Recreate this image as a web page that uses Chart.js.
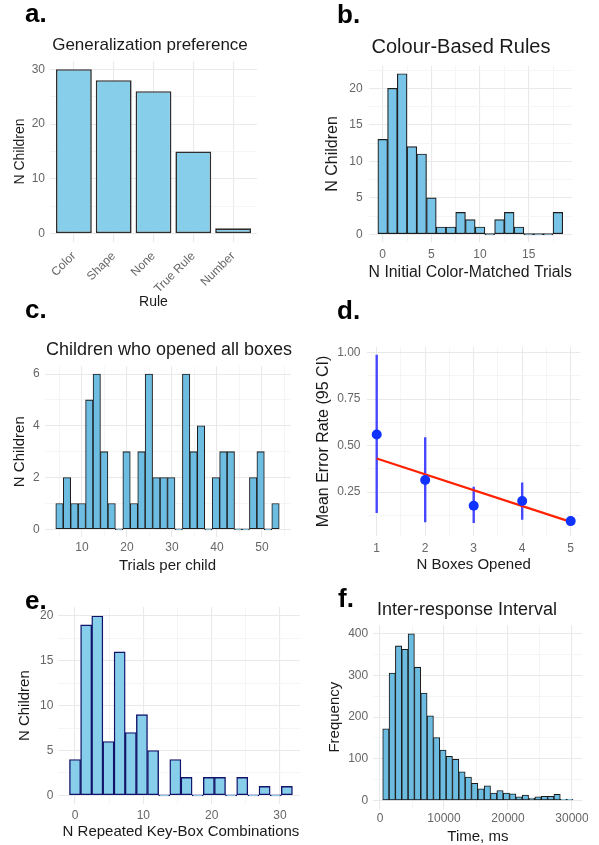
<!DOCTYPE html>
<html>
<head>
<meta charset="utf-8">
<script src="https://cdn.jsdelivr.net/npm/chart.js@4.4.1/dist/chart.umd.min.js"></script>
<style>
  html, body { margin: 0; padding: 0; background: #fff; overflow: hidden; }
  #page { position: relative; width: 599px; height: 845px; font-family: 'Liberation Sans', Arial, sans-serif; }
  .clip { position: absolute; left: 0; top: 0; height: 845px; overflow: hidden; }
  canvas { position: absolute; left: 0; top: 0; }
  .lbl { position: absolute; font-size: 26px; font-weight: bold; line-height: 1; color: #000; white-space: nowrap; }
  .ttl { position: absolute; line-height: 1; color: #1a1a1a; white-space: nowrap; transform: translateX(-50%); }
</style>
</head>
<body>
<div id="page">
  <div class="clip" style="width:599px"><canvas id="chA" width="599" height="845"></canvas></div>
  <div class="clip" style="width:599px"><canvas id="chB" width="599" height="845"></canvas></div>
  <div class="clip" style="width:599px"><canvas id="chC" width="599" height="845"></canvas></div>
  <div class="clip" style="width:599px"><canvas id="chD" width="599" height="845"></canvas></div>
  <div class="clip" style="width:300px"><canvas id="chE" width="599" height="845"></canvas></div>
  <div class="clip" style="width:588px"><canvas id="chF" width="599" height="845"></canvas></div>

  <div class="lbl" style="left:25px;top:0px">a.</div>
  <div class="lbl" style="left:337px;top:1px">b.</div>
  <div class="lbl" style="left:25px;top:296px">c.</div>
  <div class="lbl" style="left:337px;top:297px">d.</div>
  <div class="lbl" style="left:25px;top:587px">e.</div>
  <div class="lbl" style="left:338px;top:585px">f.</div>

  <div class="ttl" style="left:150px;top:35.6px;font-size:17px">Generalization preference</div>
  <div class="ttl" style="left:461px;top:36.4px;font-size:20px">Colour-Based Rules</div>
  <div class="ttl" style="left:169px;top:339.8px;font-size:18px">Children who opened all boxes</div>
  <div class="ttl" style="left:467px;top:599.8px;font-size:18px">Inter-response Interval</div>
</div>

<script>
// ---- data ----
// a. Generalization preference
const ruleCats = ['Color', 'Shape', 'None', 'True Rule', 'Number'];
const rulePos = [1, 2, 3, 4, 5];
const ruleCounts = [30, 28, 26, 15, 1];

// b. Colour-Based Rules (bin centres = N initial color-matched trials)
const colorBins = [0, 1, 2, 3, 4, 5, 6, 7, 8, 9, 10, 11, 12, 13, 14, 15, 16, 17, 18];
const colorCounts = [13, 20, 22, 12, 11, 5, 1, 1, 3, 2, 1, 0, 2, 3, 1, 0, 0, 0, 3];

// c. Children who opened all boxes (trials per child, 30 bins)
const trialBins = [5.00, 6.66, 8.31, 9.97, 11.62, 13.28, 14.93, 16.59, 18.24, 19.90,
                   21.55, 23.21, 24.86, 26.52, 28.17, 29.83, 31.48, 33.14, 34.79, 36.45,
                   38.10, 39.76, 41.41, 43.07, 44.72, 46.38, 48.03, 49.69, 51.34, 53.00];
const trialCounts = [1, 2, 1, 1, 5, 6, 3, 1, 0, 3, 1, 3, 6, 2, 2, 2, 0, 6, 3, 4, 0, 2, 3, 3, 0, 0, 2, 3, 0, 1];

// d. Mean error rate by number of boxes opened
const boxesOpened = [1, 2, 3, 4, 5];
const errorMean = [0.56, 0.315, 0.177, 0.202, 0.094];
const errorLow = [0.14, 0.09, 0.085, 0.103, 0.072];
const errorHigh = [0.986, 0.543, 0.277, 0.30, 0.117];
const fitX = [1, 5];
const fitY = [0.431, 0.09];

// e. Repeated key-box combinations (20 bins)
const repeatBins = [0, 1.63, 3.26, 4.89, 6.53, 8.16, 9.79, 11.42, 13.05, 14.68,
                    16.32, 17.95, 19.58, 21.21, 22.84, 24.47, 26.11, 27.74, 29.37, 31.00];
const repeatCounts = [4, 19, 20, 6, 16, 7, 9, 5, 0, 4, 2, 0, 2, 2, 0, 2, 0, 1, 0, 1];

// f. Inter-response interval (ms, 30 bins)
const iriBins = [917, 1908, 2899, 3890, 4881, 5872, 6863, 7854, 8845, 9836,
                 10827, 11818, 12809, 13800, 14791, 15782, 16773, 17764, 18755, 19746,
                 20737, 21728, 22719, 23710, 24701, 25692, 26683, 27674, 28665, 29656];
const iriCounts = [172, 306, 371, 363, 400, 320, 258, 203, 151, 121, 106, 99, 69, 56, 41,
                   28, 35, 18, 24, 18, 16, 9, 13, 6, 9, 10, 10, 15, 2, 2];

// ---- helpers ----
Chart.defaults.font.family = "'Liberation Sans', Arial, sans-serif";
const GRID_MAJOR = '#e9e9e9', GRID_MINOR = '#f3f3f3';

// gg-style linear axis with major (labelled) and minor (unlabelled) breaks
function axis(o) {
  const major = o.major;
  const all = major.concat(o.minor || []).sort((p, q) => p - q);
  const isMajor = c => c.tick && major.includes(c.tick.value);
  return {
    type: 'linear', min: o.min, max: o.max, offset: false,
    afterBuildTicks: s => { s.ticks = all.map(v => ({ value: v })); },
    afterFit: s => { if (s.isHorizontal()) s.height = o.size; else s.width = o.size; },
    ticks: {
      autoSkip: false, padding: o.pad, color: '#666', font: { size: o.font || 12 },
      minRotation: o.rot || 0, maxRotation: o.rot || 0,
      callback: v => major.includes(v) ? (o.fmt ? o.fmt(v) : String(v)) : ''
    },
    grid: {
      drawTicks: false, offset: false,
      color: c => isMajor(c) ? GRID_MAJOR : GRID_MINOR,
      lineWidth: c => isMajor(c) ? 1.1 : 0.8
    },
    border: { display: false },
    title: { display: true, text: o.title, color: '#1a1a1a', font: { size: o.tsize, lineHeight: 1 }, padding: 0 }
  };
}

// plot box -> axis sizes + layout padding (page coords)
function place(p) {
  const yW = p.L - (p.yTitleX - p.yts / 2);
  const xH = p.xTitleY + p.xts / 2 - p.B;
  return { yW, xH, padding: { left: p.L - yW, top: p.T, right: 599 - p.R, bottom: 845 - p.B - xH } };
}

function baseOptions(g) {
  return {
    responsive: false, animation: false, devicePixelRatio: 1,
    layout: { padding: g.padding },
    plugins: { legend: { display: false }, tooltip: { enabled: false }, title: { display: false } }
  };
}

function histogram(id, geo, bins, counts, st, xo, yo) {
  const g = place(geo);
  const opts = baseOptions(g);
  opts.scales = {
    x: axis(Object.assign({ size: g.xH, tsize: geo.xts }, xo)),
    y: axis(Object.assign({ size: g.yW, tsize: geo.yts }, yo))
  };
  new Chart(document.getElementById(id), {
    type: 'bar',
    data: {
      datasets: [{
        data: bins.map((b, i) => ({ x: b, y: counts[i] })),
        backgroundColor: st.fill, borderColor: st.line, borderWidth: st.lw,
        borderSkipped: false, barPercentage: st.bar || 1, categoryPercentage: 1, minBarLength: 1.2
      }]
    },
    options: opts
  });
}

// ---- a ----
histogram('chA',
  { L: 50, R: 257, T: 61, B: 242, yTitleX: 20, yts: 14, xTitleY: 302, xts: 14 },
  rulePos, ruleCounts,
  { fill: '#87CEEB', line: '#2e2e2e', lw: 1.6, bar: 0.9 },
  { min: 0.4, max: 5.6, major: rulePos, pad: 7, rot: 45, title: 'Rule', fmt: v => ruleCats[v - 1] },
  { min: -1.5, max: 31.5, major: [0, 10, 20, 30], minor: [5, 15, 25], pad: 5, title: 'N Children' });

// ---- b ----
histogram('chB',
  { L: 368.6, R: 572, T: 65.7, B: 242.3, yTitleX: 333, yts: 16, xTitleY: 273, xts: 16 },
  colorBins, colorCounts,
  { fill: '#78C4E8', line: '#1e1e1e', lw: 1.2 },
  { min: -1.45, max: 19.45, major: [0, 5, 10, 15], minor: [2.5, 7.5, 12.5, 17.5], pad: 5.5, title: 'N Initial Color-Matched Trials' },
  { min: -1.1, max: 23.1, major: [0, 5, 10, 15, 20], minor: [2.5, 7.5, 12.5, 17.5, 22.5], pad: 6, title: 'N Children' });

// ---- c ----
histogram('chC',
  { L: 44.6, R: 290.4, T: 366.3, B: 537.1, yTitleX: 20, yts: 15, xTitleY: 565.7, xts: 15 },
  trialBins, trialCounts,
  { fill: '#6DBDE3', line: '#1e1e1e', lw: 1.05 },
  { min: 1.69, max: 56.31, major: [10, 20, 30, 40, 50], minor: [5, 15, 25, 35, 45, 55], pad: 3.7, title: 'Trials per child' },
  { min: -0.3, max: 6.3, major: [0, 2, 4, 6], minor: [1, 3, 5], pad: 5, title: 'N Children' });

// ---- d ----
(function () {
  const geo = { L: 367, R: 580.4, T: 347, B: 536, yTitleX: 323.5, yts: 16, xTitleY: 565, xts: 15 };
  const g = place(geo);
  const opts = baseOptions(g);
  opts.scales = {
    x: axis({ size: g.xH, tsize: 15, min: 0.8, max: 5.2, major: [1, 2, 3, 4, 5], minor: [1.5, 2.5, 3.5, 4.5], pad: 5, title: 'N Boxes Opened' }),
    y: axis({ size: g.yW, tsize: 16, min: 0.014, max: 1.03, major: [0.25, 0.5, 0.75, 1], minor: [0.125, 0.375, 0.625, 0.875], pad: 6.5,
              title: 'Mean Error Rate (95 CI)', fmt: v => v.toFixed(2) })
  };
  new Chart(document.getElementById('chD'), {
    type: 'scatter',
    data: {
      datasets: [
        { type: 'bar', order: 3, data: boxesOpened.map((b, i) => ({ x: b, y: [errorLow[i], errorHigh[i]] })),
          backgroundColor: '#4646ff', borderWidth: 0, barThickness: 1.7 },
        { type: 'line', order: 2, data: fitX.map((b, i) => ({ x: b, y: fitY[i] })),
          borderColor: '#ff2200', borderWidth: 2.2, pointRadius: 0, fill: false },
        { type: 'scatter', order: 1, data: boxesOpened.map((b, i) => ({ x: b, y: errorMean[i] })),
          backgroundColor: '#1133ff', borderWidth: 0, pointRadius: 5 }
      ]
    },
    options: opts
  });
})();

// ---- e ----
histogram('chE',
  { L: 58.3, R: 303.6, T: 607, B: 804.3, yTitleX: 25, yts: 15, xTitleY: 831.7, xts: 15 },
  repeatBins, repeatCounts,
  { fill: '#87CEEB', line: '#12126a', lw: 1.4 },
  { min: -2.45, max: 33.45, major: [0, 10, 20, 30], minor: [5, 15, 25], pad: 4.5, title: 'N Repeated Key-Box Combinations' },
  { min: -1, max: 21, major: [0, 5, 10, 15, 20], minor: [2.5, 7.5, 12.5, 17.5], pad: 5, title: 'N Children' });

// ---- f ----
histogram('chF',
  { L: 373.2, R: 582.5, T: 625.5, B: 808.8, yTitleX: 335, yts: 15, xTitleY: 836.7, xts: 15 },
  iriBins, iriCounts,
  { fill: '#6CBCE1', line: '#1a1a1a', lw: 1.05 },
  { min: -1065, max: 31643, major: [0, 10000, 20000, 30000], minor: [5000, 15000, 25000], pad: 3, title: 'Time, ms' },
  { min: -20, max: 420, major: [0, 100, 200, 300, 400], minor: [50, 150, 250, 350], pad: 5, title: 'Frequency' });
</script>
</body>
</html>
